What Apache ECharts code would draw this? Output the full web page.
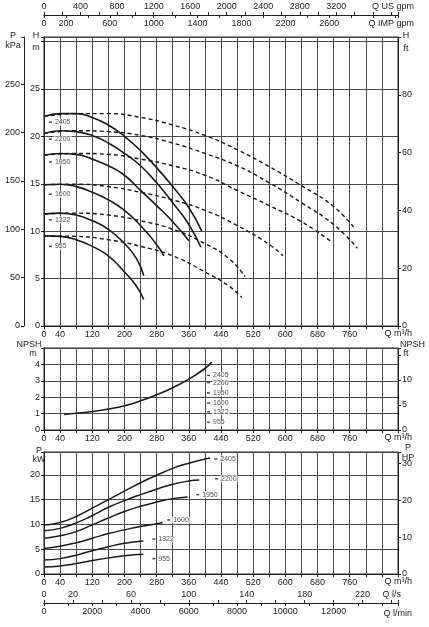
<!DOCTYPE html>
<html><head><meta charset="utf-8">
<script src="https://cdn.jsdelivr.net/npm/echarts@6/dist/echarts.min.js"></script>
<style>html,body{margin:0;padding:0;background:#fff}#c{width:429px;height:627px}</style>
</head><body><div id="c"></div>
<script>
// ---------- DATA ----------
const speeds = ['2405', '2200', '1950', '1600', '1322', '955'];

// Head curves, single pump (solid) : Q m3/h, H m
const qHead2405 = [0, 40, 80, 120, 160, 200, 240, 280, 320, 360, 392];
const hHead2405 = [22.1, 22.4, 22.4, 22.0, 21.2, 20.0, 18.5, 16.7, 14.7, 12.5, 10.0];
const qHead2200 = [0, 40, 80, 120, 160, 200, 240, 280, 320, 360, 390];
const hHead2200 = [20.3, 20.6, 20.5, 20.1, 19.3, 18.2, 16.9, 15.1, 13.0, 10.7, 8.3];
const qHead1950 = [0, 40, 80, 120, 160, 200, 240, 280, 320, 360];
const hHead1950 = [18.0, 18.2, 18.1, 17.6, 16.9, 15.9, 14.3, 12.7, 11.0, 9.0];
const qHead1600 = [0, 40, 80, 120, 160, 200, 240, 280, 298];
const hHead1600 = [14.9, 14.95, 14.7, 14.1, 13.3, 12.2, 10.6, 8.6, 7.4];
const qHead1322 = [0, 40, 80, 120, 160, 200, 230, 248];
const hHead1322 = [11.8, 11.9, 11.7, 11.1, 10.2, 8.7, 7.1, 5.3];
const qHead955 = [0, 40, 80, 120, 160, 200, 230, 248];
const hHead955 = [9.5, 9.45, 9.1, 8.4, 7.4, 5.7, 4.2, 2.8];

// Head curves, two pumps in parallel (dashed)
const qPar2405 = [0, 80, 160, 240, 320, 400, 480, 560, 640, 720, 774];
const hPar2405 = [22.1, 22.4, 22.4, 22.0, 21.2, 20.1, 18.6, 16.8, 14.8, 12.6, 10.2];
const qPar2200 = [0, 80, 160, 240, 320, 400, 480, 560, 640, 720, 779];
const hPar2200 = [20.3, 20.6, 20.5, 20.1, 19.3, 18.2, 16.9, 15.1, 13.0, 10.7, 8.2];
const qPar1950 = [0, 80, 160, 240, 320, 400, 480, 560, 640, 714];
const hPar1950 = [18.0, 18.2, 18.1, 17.6, 16.9, 15.9, 14.3, 12.7, 11.0, 8.9];
const qPar1600 = [0, 80, 160, 240, 320, 400, 480, 560, 594];
const hPar1600 = [14.9, 14.95, 14.7, 14.1, 13.3, 12.2, 10.6, 8.6, 7.4];
const qPar1322 = [0, 80, 160, 240, 320, 400, 460, 500];
const hPar1322 = [11.8, 11.9, 11.7, 11.1, 10.2, 8.7, 7.1, 5.2];
const qPar955 = [0, 80, 160, 240, 320, 400, 460, 492];
const hPar955 = [9.5, 9.45, 9.1, 8.4, 7.4, 5.7, 4.2, 3.0];

// NPSH curve
const qNpsh = [50, 80, 120, 160, 200, 240, 280, 320, 360, 400, 417];
const vNpsh = [0.95, 1.02, 1.13, 1.28, 1.48, 1.78, 2.15, 2.58, 3.1, 3.75, 4.15];

// Power curves : Q m3/h, P kW
const qPow2405 = [0, 40, 80, 120, 160, 200, 240, 280, 320, 360, 400, 413];
const pPow2405 = [9.9, 10.4, 11.6, 13.3, 15.0, 16.7, 18.4, 19.9, 21.3, 22.35, 23.2, 23.4];
const qPow2200 = [0, 40, 80, 120, 160, 200, 240, 280, 320, 360, 386];
const pPow2200 = [8.7, 9.2, 10.3, 11.8, 13.45, 14.8, 16.0, 17.1, 18.1, 18.75, 18.95];
const qPow1950 = [0, 40, 80, 120, 160, 200, 240, 280, 320, 357];
const pPow1950 = [7.2, 7.7, 8.55, 9.9, 11.3, 12.6, 13.65, 14.5, 15.2, 15.55];
const qPow1600 = [0, 40, 80, 120, 160, 200, 240, 280, 295];
const pPow1600 = [5.15, 5.6, 6.3, 7.2, 8.15, 8.9, 9.6, 10.15, 10.4];
const qPow1322 = [0, 40, 80, 120, 160, 200, 247];
const pPow1322 = [2.8, 3.1, 3.8, 4.7, 5.5, 6.2, 6.65];
const qPow955 = [0, 40, 80, 120, 160, 200, 247];
const pPow955 = [1.4, 1.6, 2.1, 2.7, 3.25, 3.7, 4.0];

// Speed label anchors (data units)
const headLabelQ = [16, 16, 16, 16, 16, 16];
const headLabelH = [21.5, 19.7, 17.3, 13.9, 11.2, 8.4];
const npshLabelQ = [409, 409, 409, 409, 409, 409];
const npshLabelV = [3.33, 2.89, 2.26, 1.65, 1.11, 0.47];
const powLabelQ = [427, 429, 382, 310, 273, 273];
const powLabelP = [23.2, 19.2, 16.0, 10.9, 7.05, 3.1];

// Axis ranges
const qMax = 880;           // m3/h
const hMax = 30.48;         // m (100 ft)
const npshMax = 5;          // m
const pMax = 24.6;          // kW

// ---------- CHART ----------
const FONT = 'Liberation Sans, Arial, sans-serif';
const INK = '#222';
const GRIDC = '#4a4a4a';
const pts = (q, v) => q.map((x, i) => [x, v[i]]);

function axis(o) {
  const base = {
    type: 'value', min: 0,
    axisLine: { show: true, onZero: false, lineStyle: { color: INK, width: 1 } },
    axisTick: { show: true, length: 3, lineStyle: { color: INK, width: 1 } },
    axisLabel: { color: INK, fontSize: 9, fontFamily: FONT, margin: 4, showMinLabel: true, showMaxLabel: true },
    splitLine: { show: false }
  };
  const r = Object.assign({}, base, o);
  ['axisLine', 'axisTick', 'axisLabel', 'splitLine'].forEach(k => {
    if (o[k]) r[k] = Object.assign({}, base[k], o[k]);
  });
  return r;
}
const isInt = v => Math.abs(v - Math.round(v)) < 1e-6;
const qFmt = v => (isInt(v) && (v === 0 || ((v - 40) % 80 === 0 && v <= 760))) ? String(v) : '';
const split = { show: true, lineStyle: { color: GRIDC, width: 1 } };

const xAxis = [
  axis({ gridIndex: 0, max: qMax, interval: 40, position: 'bottom', axisLabel: { formatter: qFmt }, splitLine: split }),
  axis({ gridIndex: 0, max: qMax * 4.4029, interval: 200, position: 'top', offset: 22,
         axisLabel: { formatter: v => (isInt(v) && v % 400 === 0 && v < 3600) ? String(v) : '' } }),
  axis({ gridIndex: 0, max: qMax * 3.6662, interval: 200, position: 'top', offset: 22,
         axisTick: { inside: true }, axisLabel: { inside: true, formatter: v => (isInt(v) && (v === 0 || ((v - 200) % 400 === 0 && v < 3000))) ? String(v) : '' } }),
  axis({ gridIndex: 1, max: qMax, interval: 40, position: 'bottom', axisLabel: { formatter: qFmt }, splitLine: split }),
  axis({ gridIndex: 2, max: qMax, interval: 40, position: 'bottom', axisLabel: { formatter: qFmt }, splitLine: split }),
  axis({ gridIndex: 2, max: qMax / 3.6, interval: 20, position: 'bottom', offset: 29,
         axisTick: { inside: true }, axisLabel: { inside: true, formatter: v => (isInt(v) && (v === 0 || ((v - 20) % 40 === 0 && v < 240))) ? String(v) : '' } }),
  axis({ gridIndex: 2, max: qMax * 1000 / 60, interval: 1000, position: 'bottom', offset: 29,
         axisLabel: { formatter: v => (isInt(v) && v % 2000 === 0 && v < 14000) ? String(v) : '' } })
];

const yAxis = [
  axis({ gridIndex: 0, max: hMax, interval: 5, position: 'left', splitLine: split,
         axisLabel: { formatter: v => (isInt(v) && v <= 25) ? String(v) : '' } }),
  axis({ gridIndex: 0, max: hMax * 9.80665, interval: 50, position: 'left', offset: 20,
         axisLabel: { formatter: v => (isInt(v) && v <= 250) ? String(v) : '' } }),
  axis({ gridIndex: 0, max: 100, interval: 20, position: 'right',
         axisLabel: { formatter: v => (isInt(v) && v < 100) ? String(v) : '' } }),
  axis({ gridIndex: 1, max: npshMax, interval: 1, position: 'left', splitLine: split,
         axisLabel: { formatter: v => (isInt(v) && v < 5) ? String(v) : '' } }),
  axis({ gridIndex: 1, max: npshMax / 0.3048, interval: 5, position: 'right',
         axisLabel: { formatter: v => (isInt(v) && v < 15) ? String(v) : '' } }),
  axis({ gridIndex: 2, max: pMax, interval: 5, position: 'left', splitLine: split,
         axisLabel: { formatter: v => (isInt(v) && v <= 20) ? String(v) : '' } }),
  axis({ gridIndex: 2, max: pMax / 0.7457, interval: 10, position: 'right',
         axisLabel: { formatter: v => (isInt(v) && v <= 30) ? String(v) : '' } })
];

const headSolid = [[qHead2405, hHead2405], [qHead2200, hHead2200], [qHead1950, hHead1950],
                   [qHead1600, hHead1600], [qHead1322, hHead1322], [qHead955, hHead955]];
const headPar = [[qPar2405, hPar2405], [qPar2200, hPar2200], [qPar1950, hPar1950],
                 [qPar1600, hPar1600], [qPar1322, hPar1322], [qPar955, hPar955]];
const power = [[qPow2405, pPow2405], [qPow2200, pPow2200], [qPow1950, pPow1950],
               [qPow1600, pPow1600], [qPow1322, pPow1322], [qPow955, pPow955]];

const series = [];
function line(xi, yi, data, style) {
  series.push({ type: 'line', xAxisIndex: xi, yAxisIndex: yi, data, smooth: 0.5,
    showSymbol: false, silent: true, z: 5, lineStyle: Object.assign({ color: '#1a1a1a', width: 1.6 }, style) });
}
headPar.forEach(([q, h]) => line(0, 0, pts(q, h), { type: [4, 3], width: 1.4 }));
headSolid.forEach(([q, h]) => line(0, 0, pts(q, h), {}));
line(3, 3, pts(qNpsh, vNpsh), {});
power.forEach(([q, p]) => line(4, 5, pts(q, p), { width: 1.5 }));

function labels(xi, yi, qs, vs) {
  series.push({ type: 'scatter', xAxisIndex: xi, yAxisIndex: yi, silent: true, z: 8,
    symbol: 'rect', symbolSize: [3, 1.5], itemStyle: { color: INK },
    data: speeds.map((s, i) => ({ name: s, value: [qs[i], vs[i]] })),
    label: { show: true, position: 'right', distance: 2, formatter: '{b}', fontSize: 7, fontFamily: FONT,
             color: INK, backgroundColor: '#fff', padding: [0, 1, 0, 1] } });
}
labels(0, 0, headLabelQ, headLabelH);
labels(3, 3, npshLabelQ, npshLabelV);
labels(4, 5, powLabelQ, powLabelP);

function txt(text, x, y, align) {
  return { type: 'text', x, y, silent: true, z: 20,
    style: { text, fill: INK, font: '9px ' + FONT, align: align || 'center', verticalAlign: 'middle',
             textAlign: align || 'center', textVerticalAlign: 'middle' } };
}
const graphic = [
  txt('P', 13, 36), txt('kPa', 13, 46), txt('H', 36, 36), txt('m', 36, 48),
  txt('H', 406, 36), txt('ft', 406, 49),
  txt('Q US gpm', 414, 7, 'right'), txt('Q IMP gpm', 414, 24, 'right'),
  txt('Q m³/h', 412, 334, 'right'),
  txt('NPSH', 29, 345), txt('m', 33, 354), txt('NPSH', 400, 345, 'left'), txt('ft', 406, 354),
  txt('Q m³/h', 412, 438, 'right'),
  txt('P', 39, 451), txt('kW', 39, 460), txt('P', 408, 448), txt('HP', 408, 458),
  txt('Q m³/h', 412, 582, 'right'),
  txt('Q l/s', 401, 595, 'right'), txt('Q l/min', 412, 614, 'right')
];

const gridBase = { left: 44, width: 354, show: true, borderColor: INK, borderWidth: 1, backgroundColor: 'transparent' };
const option = {
  animation: false,
  backgroundColor: '#fff',
  grid: [
    Object.assign({ top: 37, height: 289 }, gridBase),
    Object.assign({ top: 348, height: 82 }, gridBase),
    Object.assign({ top: 452, height: 122 }, gridBase)
  ],
  xAxis, yAxis, series, graphic
};
const chart = echarts.init(document.getElementById('c'), null, { renderer: 'canvas' });
chart.setOption(option);
</script></body></html>
